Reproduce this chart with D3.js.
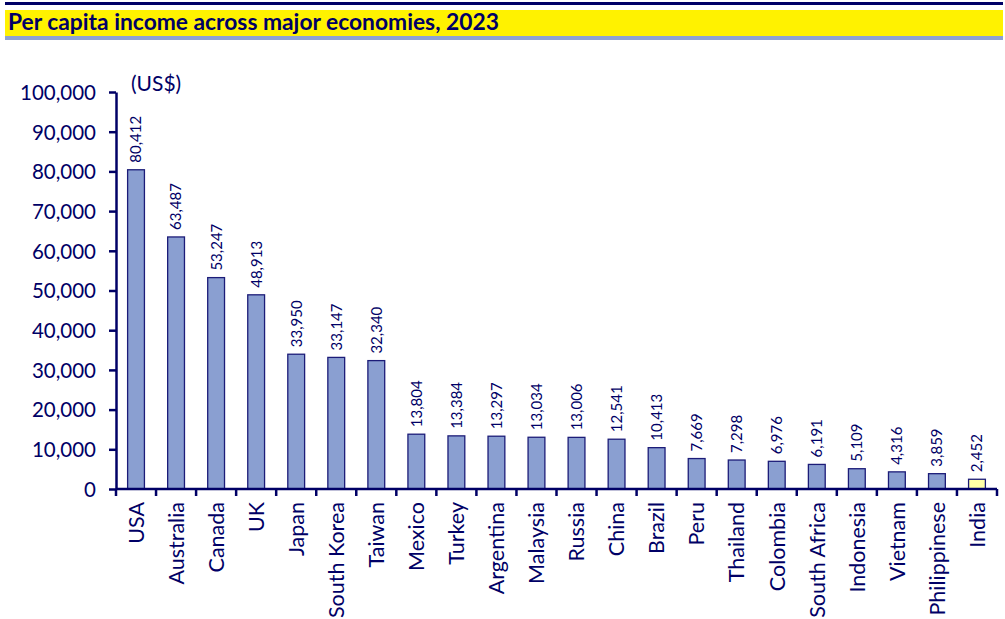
<!DOCTYPE html>
<html>
<head>
<meta charset="utf-8">
<script src="https://cdn.jsdelivr.net/npm/d3@7"></script>
<style>
  html, body { margin: 0; padding: 0; background: #fff; }
  svg { display: block; font-family: Lato, "Open Sans", sans-serif; }
</style>
</head>
<body>
<svg id="chart" width="1005" height="619"></svg>
<script>
// Per capita income, 2023 (US$)
const countries = ["USA","Australia","Canada","UK","Japan","South Korea","Taiwan","Mexico","Turkey","Argentina","Malaysia","Russia","China","Brazil","Peru","Thailand","Colombia","South Africa","Indonesia","Vietnam","Philippinese","India"];
const income = [80412,63487,53247,48913,33950,33147,32340,13804,13384,13297,13034,13006,12541,10413,7669,7298,6976,6191,5109,4316,3859,2452];
const highlight = ["India"];
const yTicks = [0,10000,20000,30000,40000,50000,60000,70000,80000,90000,100000];

const navy = "#000066";
const data = countries.map((c, i) => ({ country: c, value: income[i] }));

const svg = d3.select("#chart");

// Title banner
svg.append("rect").attr("x", 5).attr("y", 2).attr("width", 998).attr("height", 3).attr("fill", navy);
svg.append("rect").attr("x", 5).attr("y", 10).attr("width", 998).attr("height", 26).attr("fill", "#fff200");
svg.append("rect").attr("x", 5).attr("y", 36).attr("width", 998).attr("height", 4).attr("fill", "#8ea2d2");
svg.append("text")
  .attr("x", 8).attr("y", 30)
  .attr("fill", navy)
  .attr("font-weight", "bold")
  .attr("font-size", 22.8)
  .text("Per capita income across major economies, 2023");

const x = d3.scaleBand().domain(countries).range([116, 997]).paddingInner(0.58).paddingOuter(0.29);
const y = d3.scaleLinear().domain([0, 100000]).range([489, 92]);

// Y axis
const yAxis = svg.append("g")
  .attr("transform", "translate(116,0)")
  .call(d3.axisLeft(y).tickValues(yTicks).tickSize(7).tickSizeOuter(0).tickPadding(13)
    .tickFormat(d3.format(",")));
yAxis.select(".domain").attr("stroke", navy).attr("stroke-width", 2.5);
yAxis.selectAll(".tick line").attr("stroke", navy).attr("stroke-width", 2.5);
yAxis.selectAll(".tick text").attr("fill", navy).attr("font-size", 20.5).attr("font-family", "Lato").attr("dy", "0.36em");

svg.append("text")
  .attr("x", 131).attr("y", 91)
  .attr("fill", navy)
  .attr("font-size", 21)
  .text("(US$)");

// Bars
svg.append("g").selectAll("rect")
  .data(data)
  .join("rect")
  .attr("x", d => x(d.country))
  .attr("y", d => y(d.value))
  .attr("width", x.bandwidth())
  .attr("height", d => y(0) - y(d.value))
  .attr("fill", d => highlight.includes(d.country) ? "#ffffa6" : "#8a9fd1")
  .attr("stroke", "#1c1c78")
  .attr("stroke-width", 1.3);

// Value labels
svg.append("g").selectAll("text")
  .data(data)
  .join("text")
  .attr("transform", d => `translate(${x(d.country) + x.bandwidth() / 2},${y(d.value) - 7}) rotate(-90)`)
  .attr("dy", "0.36em")
  .attr("fill", navy)
  .attr("font-size", 15)
  .text(d => d3.format(",")(d.value));

// X axis with ticks at category boundaries
const step = x.step();
const xAxisG = svg.append("g");
xAxisG.append("line")
  .attr("x1", 116).attr("x2", 997).attr("y1", y(0)).attr("y2", y(0))
  .attr("stroke", navy).attr("stroke-width", 2.5);
xAxisG.selectAll("line.tk")
  .data(d3.range(countries.length + 1))
  .join("line")
  .attr("class", "tk")
  .attr("x1", i => 116 + i * step).attr("x2", i => 116 + i * step)
  .attr("y1", y(0)).attr("y2", y(0) + 7)
  .attr("stroke", navy).attr("stroke-width", 2.5);

xAxisG.selectAll("text")
  .data(countries)
  .join("text")
  .attr("transform", d => `translate(${x(d) + x.bandwidth() / 2},${y(0) + 13}) rotate(-90)`)
  .attr("text-anchor", "end")
  .attr("dy", "0.36em")
  .attr("fill", navy)
  .attr("font-size", 21.5)
  .text(d => d);
</script>
</body>
</html>
